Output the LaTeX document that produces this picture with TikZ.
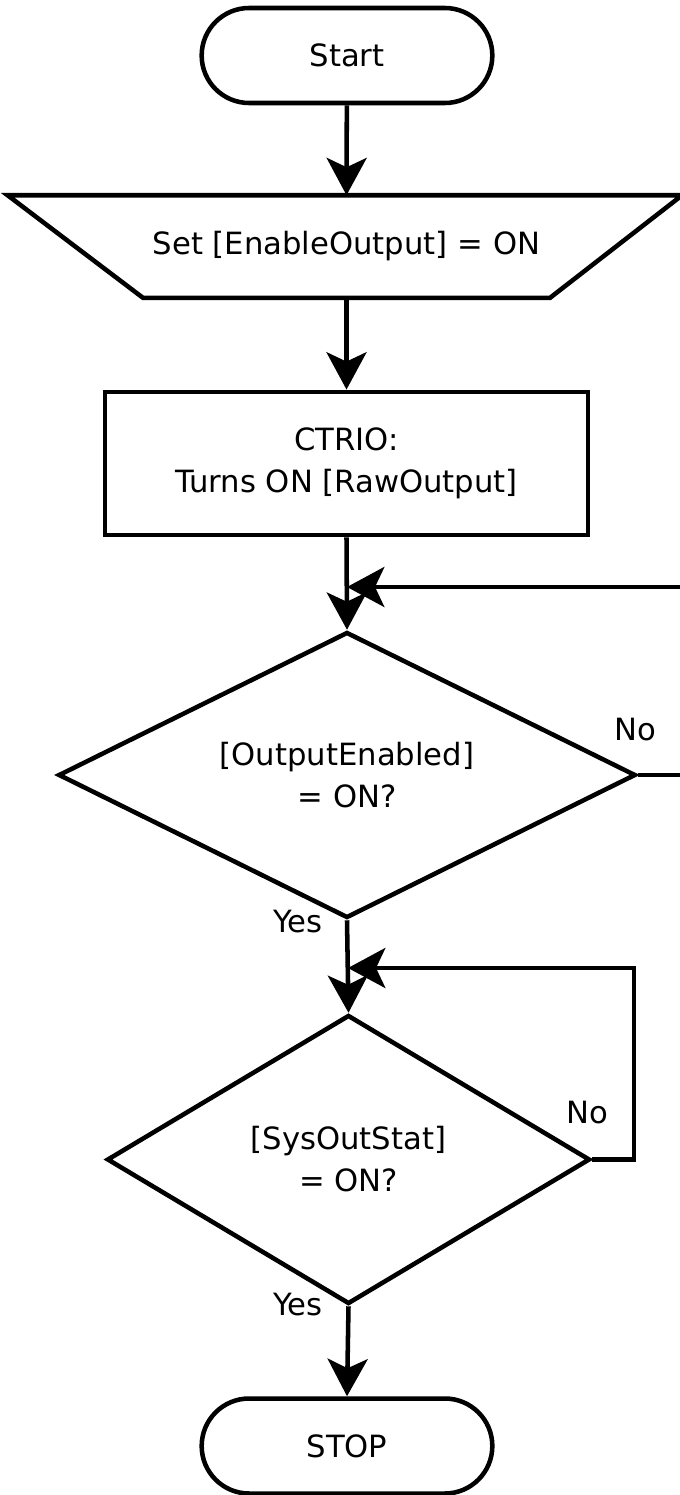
\documentclass[tikz,border=0pt]{standalone}
\usepackage{fontspec}
\setmainfont{DejaVu Sans}
\usetikzlibrary{arrows.meta,shapes.geometric}
\begin{document}
\begin{tikzpicture}[x=0.75pt,y=-0.75pt, line width=3.4pt,
  every node/.style={font=\fontsize{23}{31.5}\selectfont},
  box/.style={draw, align=center, inner sep=0pt},
  term/.style={box, rounded corners=35.6pt, minimum width=218pt, minimum height=71.25pt},
  proc/.style={box, minimum width=362pt, minimum height=107.5pt},
  dec/.style={box, diamond, aspect=2},
  arr/.style={-{Stealth[length=28pt,width=30pt,inset=7pt]}},
  lbl/.style={anchor=base, inner sep=0pt}
]
\useasboundingbox (0,0) rectangle (680,1495);

\node[term] (start) at (347,55.5) {Start};
\node[inner sep=0pt, minimum width=302pt, minimum height=73.5pt] (inp) at (346.5,246.5) {Set [EnableOutput] = ON};
\draw ([xshift=-101.5pt]inp.north west) -- ([xshift=99pt]inp.north east) -- (inp.south east) -- (inp.south west) -- cycle;
\node[proc] (proc) at (346.5,463.5) {CTRIO:\\Turns ON [RawOutput]};
\node[dec, minimum width=433pt, minimum height=214.5pt] (d1) at (347,775) {[OutputEnabled]\\= ON?};
\node[dec, minimum width=362.25pt, minimum height=216.75pt] (d2) at (348.5,1159.5) {[SysOutStat]\\= ON?};
\node[term] (stop) at (347,1446) {STOP};

\coordinate (m1) at (347,587);
\coordinate (c1) at (720,587);
\coordinate (m2) at (348,968);
\coordinate (c2) at (634,968);

\draw[arr] (start) -- (inp.north);
\draw[arr] (inp.south) -- (proc.north);
\draw[arr] (proc.south) -- (d1.north);
\draw[arr] (d1.east) -| (c1) -- (m1);
\draw[arr] (d1.south) -- (d2.north);
\draw[arr] (d2.east) -| (c2) -- (m2);
\draw[arr] (d2.south) -- (stop.north);

\node[lbl] (no1) at (635,740) {No};
\node[lbl] (yes1) at (298,932) {Yes};
\node[lbl] (no2) at (587,1123) {No};
\node[lbl] (yes2) at (298,1315) {Yes};
\end{tikzpicture}
\end{document}
